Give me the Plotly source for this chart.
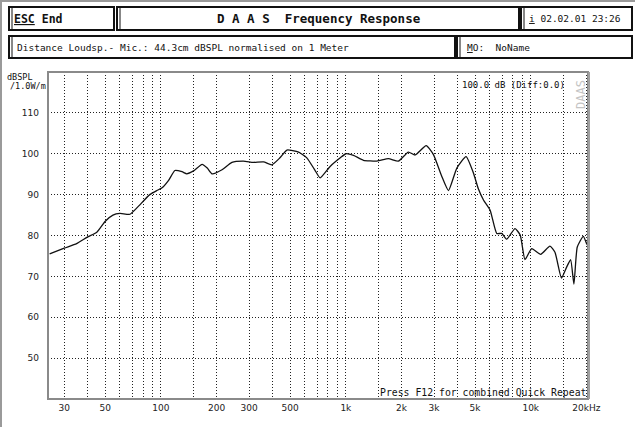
import numpy as np
import plotly.graph_objects as go

# ---- data ----
freq_hz = [25, 30, 35, 40, 45, 50, 55, 60, 68, 75, 87, 95, 101, 110, 119, 130, 138, 150,
           167, 178, 189, 214, 242, 279, 316, 359, 398, 440, 480, 555, 615, 680, 726, 822,
           933, 1000, 1100, 1245, 1472, 1700, 1924, 2178, 2370, 2719, 2977, 3300, 3590,
           3984, 4470, 4897, 5200, 5550, 6030, 6550, 6970, 7410, 8220, 8770, 9310, 10120,
           11320, 12700, 13520, 14660, 15610, 16430, 17120, 17850, 19240, 20070, 20400]
spl_db = [75.5, 76.9, 78.0, 79.6, 80.8, 83.5, 85.0, 85.4, 85.2, 87.0, 90.0, 91.0, 91.6,
          93.5, 95.9, 95.6, 95.1, 95.8, 97.4, 96.5, 95.1, 96.1, 97.9, 98.2, 97.9, 98.0,
          97.3, 99.0, 100.9, 100.4, 99.0, 96.0, 94.1, 96.9, 99.0, 100.0, 99.6, 98.4, 98.2,
          98.8, 98.2, 100.4, 99.7, 102.0, 99.8, 94.5, 91.0, 96.5, 99.3, 95.3, 91.5, 88.7,
          86.2, 80.5, 80.5, 79.1, 81.7, 80.1, 74.1, 76.8, 75.4, 77.4, 75.9, 69.6, 72.2,
          74.1, 68.1, 77.2, 79.8, 78.0, 77.5]

grid_x = [30, 40, 50, 60, 70, 80, 90, 100, 150, 200, 300, 400, 500, 600, 700, 800, 900,
          1000, 1500, 2000, 3000, 4000, 5000, 6000, 7000, 8000, 9000, 10000, 15000, 20000]
x_labels = {30: "30", 50: "50", 100: "100", 200: "200", 300: "300", 500: "500",
            1000: "1k", 2000: "2k", 3000: "3k", 5000: "5k", 10000: "10k", 20000: "20kHz"}
y_ticks = [50, 60, 70, 80, 90, 100, 110]

W, H = 635, 427
L, R, T, B = 48, 588, 72, 399
FONT = "DejaVu Sans"
MONO = "DejaVu Sans Mono"


def px(x):
    return (x - L) / (R - L)


def py(y):
    return (B - y) / (B - T)


fig = go.Figure()
fig.add_trace(go.Scatter(x=freq_hz, y=spl_db, mode="lines",
                         line=dict(color="#111111", width=1.3, shape="spline", smoothing=0.5),
                         hoverinfo="skip", showlegend=False))

fig.update_xaxes(type="log", range=[np.log10(24.5), np.log10(20400)],
                 tickvals=grid_x, ticktext=[x_labels.get(v, "") for v in grid_x],
                 showgrid=True, gridcolor="#222222", griddash="1px,2px", gridwidth=1,
                 ticks="", zeroline=False, showline=False, ticklabelstandoff=2,
                 tickfont=dict(family=FONT, size=9, color="#222222"))
fig.update_yaxes(range=[40, 120], tickvals=y_ticks,
                 showgrid=True, gridcolor="#222222", griddash="1px,2px", gridwidth=1,
                 ticks="", zeroline=False, showline=False, ticklabelstandoff=8,
                 tickfont=dict(family=FONT, size=9, color="#222222"))

shapes = []
# plot border
shapes.append(dict(type="rect", xref="paper", yref="paper", x0=0, x1=1, y0=0, y1=1,
                   line=dict(color="#8a8a8a", width=2)))
shapes.append(dict(type="line", xref="paper", yref="paper", x0=px(589), x1=px(589), y0=0, y1=1,
                   line=dict(color="#a0a0a0", width=2)))
# outer page border (left & top)
shapes.append(dict(type="line", xref="paper", yref="paper", x0=px(1), x1=px(1), y0=py(0), y1=py(427),
                   line=dict(color="#9a9a9a", width=2)))
shapes.append(dict(type="line", xref="paper", yref="paper", x0=px(0), x1=px(635), y0=py(1), y1=py(1),
                   line=dict(color="#9a9a9a", width=2)))

boxes = [(9, 7, 114, 30), (117, 7, 519, 30), (521, 7, 632, 30),
         (9, 36, 455, 58), (457, 36, 632, 58)]
for (x0, y0, x1, y1) in boxes:
    shapes.append(dict(type="rect", xref="paper", yref="paper", x0=px(x0), x1=px(x1),
                       y0=py(y1), y1=py(y0), line=dict(color="#111111", width=2)))
    shapes.append(dict(type="line", xref="paper", yref="paper", x0=px(x0 + 3), x1=px(x0 + 3),
                       y0=py(y1 - 1), y1=py(y0 + 1), line=dict(color="#111111", width=1)))

annotations = []


def txt(x, y, s, size=10, anchor="left", color="#111111", angle=0, family=MONO):
    annotations.append(dict(xref="paper", yref="paper", x=px(x), y=py(y), text=s,
                            showarrow=False, xanchor=anchor, yanchor="middle",
                            textangle=angle, borderpad=0,
                            font=dict(family=family, size=size, color=color)))


txt(13, 18.5, "<b><u>ESC</u> End</b>", size=11.5)
txt(319, 18.5, "<b>D A A S  Frequency Response</b>", size=12.5, anchor="center")
txt(528, 18.5, "<u>i</u> 02.02.01 23:26", size=9.5)
txt(16, 47, "Distance Loudsp.- Mic.: 44.3cm dBSPL normalised on 1 Meter", size=9.5)
txt(466, 47, "<u>M</u>O:  NoName", size=9.5)
txt(34, 77, "dBSPL", size=8.5, anchor="right")
txt(47, 86, "/1.0W/m", size=8.5, anchor="right")
txt(566, 85, "100.0 dB (Diff:0.0)", size=9, anchor="right")
txt(587, 392, "Press F12 for combined Quick Repeat", size=9.8, anchor="right")
txt(581, 95, "DAAS", size=12, anchor="center", color="#c4c4c4", angle=-90)

fig.update_layout(width=W, height=H, margin=dict(l=L, r=W - R, t=T, b=H - B),
                  paper_bgcolor="white", plot_bgcolor="white",
                  shapes=shapes, annotations=annotations, showlegend=False)

fig.write_html("out.html", config={"displayModeBar": False, "staticPlot": True},
               post_script="document.body.style.margin='0';")
